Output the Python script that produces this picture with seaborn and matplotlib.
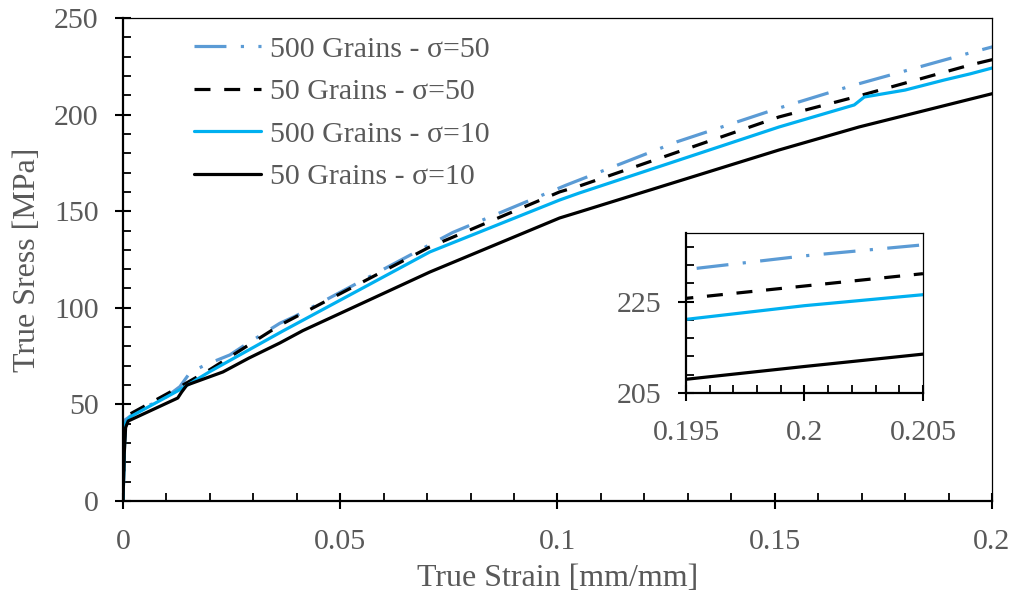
import numpy as np
import pandas as pd
import matplotlib
matplotlib.use("Agg")
import matplotlib.pyplot as plt
from matplotlib.ticker import MultipleLocator, FixedLocator
import seaborn as sns

# ---------------- data ----------------
labels = ["500 Grains - σ=50", "50 Grains - σ=50", "500 Grains - σ=10", "50 Grains - σ=10"]

strain_g500_s50 = [0, 0.0003, 0.0005, 0.0047, 0.0085, 0.0131, 0.0154, 0.0189, 0.0246, 0.0277,
                   0.0361, 0.0395, 0.0759, 0.102, 0.1276, 0.151, 0.1675, 0.195, 0.2, 0.205]
stress_g500_s50 = [0, 25, 42, 48.8, 51.4, 59.2, 66.4, 70.4, 75.6, 80.2,
                   92, 95.5, 139, 163.5, 186, 203.4, 214.8, 232, 235, 237.4]

strain_g50_s50 = [0, 0.0003, 0.0005, 0.0016, 0.013, 0.020, 0.0361, 0.0706, 0.1005,
                  0.105, 0.151, 0.1683, 0.195, 0.2, 0.205]
stress_g50_s50 = [0, 25, 41, 45, 59, 68, 91, 131.5, 160,
                  163, 198.8, 209, 225.7, 228.4, 231.1]

strain_g500_s10 = [0, 0.0003, 0.0005, 0.0016, 0.013, 0.020, 0.0368, 0.0706, 0.1005, 0.105,
                   0.151, 0.1683, 0.1706, 0.180, 0.189, 0.195, 0.2, 0.205]
stress_g500_s10 = [0, 25, 40, 43.5, 57.5, 67, 88, 128.9, 155.8, 159.4,
                   193.6, 205, 209.1, 212.7, 217.9, 221.1, 224.1, 226.5]

strain_g50_s10 = [0, 0.0003, 0.0006, 0.0012, 0.0126, 0.0135, 0.0147, 0.023, 0.029, 0.0361,
                  0.0414, 0.0706, 0.1005, 0.105, 0.151, 0.1694, 0.195, 0.2, 0.205]
stress_g50_s10 = [0, 25, 38, 41.4, 53.3, 56.4, 60, 66.8, 74, 81.8,
                  88.2, 118.5, 146.5, 149.6, 181.7, 193.6, 208, 210.8, 213.5]

x_ticks_main = [0, 0.05, 0.1, 0.15, 0.2]
x_ticklabels_main = ["0", "0.05", "0.1", "0.15", "0.2"]
y_ticks_main = [0, 50, 100, 150, 200, 250]
x_ticks_inset = [0.195, 0.2, 0.205]
x_ticklabels_inset = ["0.195", "0.2", "0.205"]
y_ticks_inset = [205, 225]

series = [
    (strain_g500_s50, stress_g500_s50),
    (strain_g50_s50, stress_g50_s50),
    (strain_g500_s10, stress_g500_s10),
    (strain_g50_s10, stress_g50_s10),
]

# ---------------- style ----------------
sns.set_style("white")
plt.rcParams["font.family"] = ["Liberation Serif", "DejaVu Serif"]
TEXT = "#595959"

colors = ["#5B9BD5", "#000000", "#00B0F0", "#000000"]
styles = [(0, (10, 4.5, 1, 4.5)), (0, (5, 4.3)), "-", "-"]
LW = 2.3

fig = plt.figure(figsize=(10.14, 5.98), dpi=100)
ax = fig.add_axes([0.1213, 0.1622, 0.857, 0.8077])
axin = fig.add_axes([0.6765, 0.3428, 0.2337, 0.2676])

for (sx, sy), lab, c, ls in zip(series, labels, colors, styles):
    df = pd.DataFrame({"strain": sx, "stress": sy})
    for a, lb in ((ax, lab), (axin, None)):
        sns.lineplot(data=df, x="strain", y="stress", ax=a, color=c, lw=LW,
                     linestyle=ls, sort=False, estimator=None, label=lb,
                     legend=False)


def style_axes(a, xmaj, xmin, ymaj, xlim, ylim, xt_labels, fs, xpad, ypad):
    a.set_xlim(*xlim)
    a.set_ylim(*ylim)
    a.xaxis.set_major_locator(FixedLocator(xmaj))
    a.xaxis.set_minor_locator(MultipleLocator(xmin))
    a.yaxis.set_major_locator(FixedLocator(ymaj))
    a.set_xticklabels(xt_labels)
    for s in ("left", "bottom"):
        a.spines[s].set_linewidth(1.6)
        a.spines[s].set_color("black")
    for s in ("top", "right"):
        a.spines[s].set_linewidth(0.9)
        a.spines[s].set_color("black")
    a.tick_params(which="major", direction="inout", length=11, width=1.5,
                  colors="black", labelcolor=TEXT, labelsize=fs)
    a.tick_params(axis="x", which="major", pad=xpad)
    a.tick_params(axis="y", which="major", pad=ypad)
    a.tick_params(which="minor", direction="in", length=5.5, width=1.3, colors="black")
    a.tick_params(left=True, bottom=True, top=False, right=False)
    a.tick_params(which="minor", left=True, bottom=True, top=False, right=False)
    a.set_xlabel("")
    a.set_ylabel("")
    a.set_facecolor("white")


style_axes(ax, x_ticks_main, 0.01, y_ticks_main, (0, 0.2), (0, 250),
           x_ticklabels_main, 21.5, 15, 12)
style_axes(axin, x_ticks_inset, 0.001, y_ticks_inset, (0.195, 0.205), (205, 240),
           x_ticklabels_inset, 21.5, 14, 12)

ax.yaxis.set_minor_locator(FixedLocator([v for v in range(10, 250, 10) if v % 50]))
axin.yaxis.set_minor_locator(FixedLocator([209, 213, 217, 221, 229, 233, 237]))

ax.set_xlabel("True Strain [mm/mm]", fontsize=23, color=TEXT, labelpad=6)
ax.set_ylabel("True Sress [MPa]", fontsize=23, color=TEXT, labelpad=9)

leg = ax.legend(loc="upper left", bbox_to_anchor=(0.061, 1.0), frameon=False,
                fontsize=21.5, handlelength=2.25, handletextpad=0.3,
                labelspacing=0.52, borderaxespad=0.2)
for t in leg.get_texts():
    t.set_color(TEXT)

fig.savefig("out.png", dpi=100, facecolor="white")
